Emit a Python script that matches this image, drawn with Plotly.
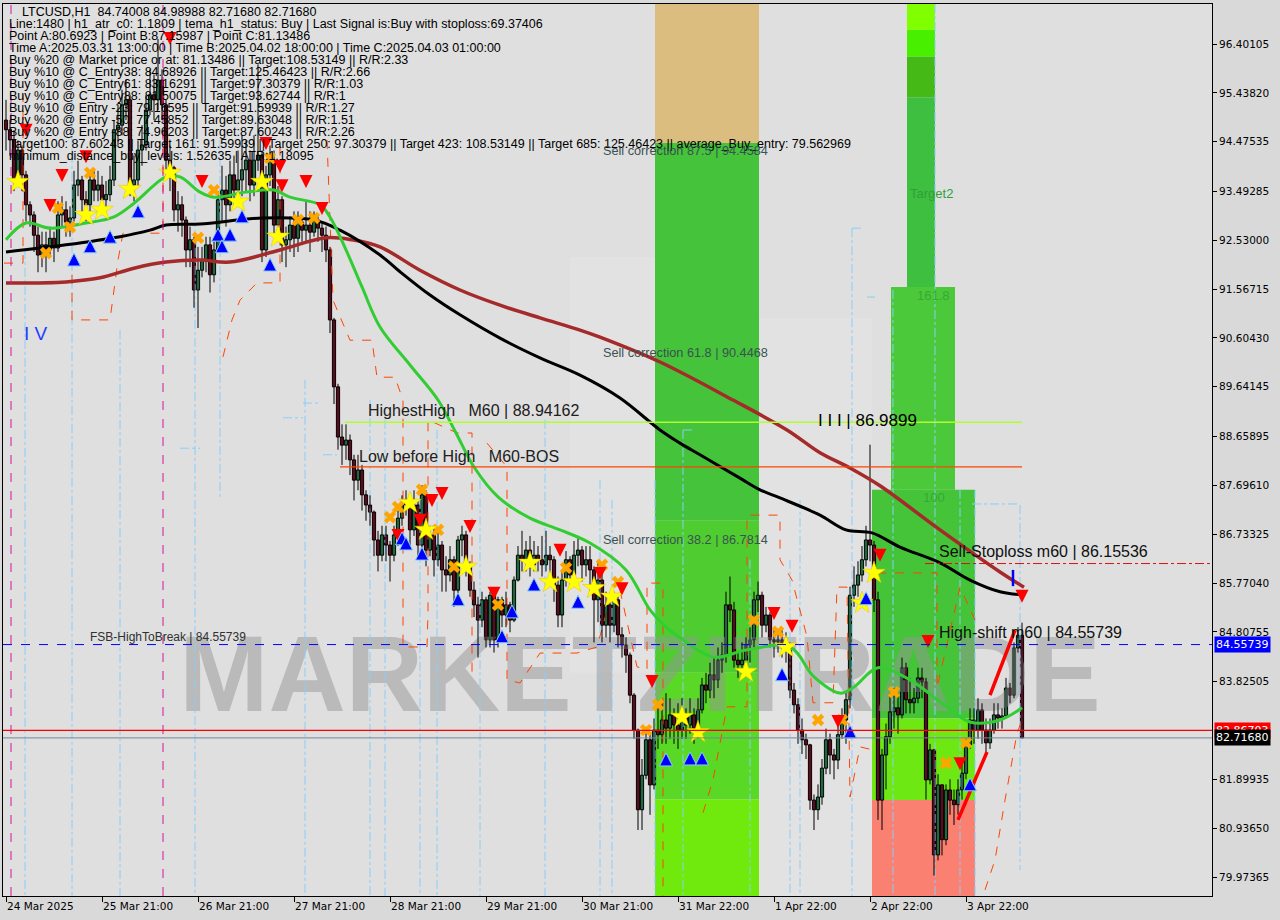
import plotly.graph_objects as go

# ---------------- axis labels ----------------
tick_bars = [0, 24, 48, 72, 96, 120, 144, 168, 192, 216, 240]
tick_labels = ["24 Mar 2025", "25 Mar 21:00", "26 Mar 21:00", "27 Mar 21:00", "28 Mar 21:00",
               "29 Mar 21:00", "30 Mar 21:00", "31 Mar 22:00", "1 Apr 22:00", "2 Apr 22:00", "3 Apr 22:00"]
price_tick_vals = [96.40105, 95.43820, 94.47535, 93.49285, 92.53000, 91.56715, 90.60430, 89.64145,
                   88.65895, 87.69610, 86.73325, 85.77040, 84.80755, 83.82505, 81.89935, 80.93650, 79.97365]
price_tick_text = ["96.40105", "95.43820", "94.47535", "93.49285", "92.53000", "91.56715", "90.60430",
                   "89.64145", "88.65895", "87.69610", "86.73325", "85.77040", "84.80755", "83.82505",
                   "81.89935", "80.93650", "79.97365"]

# ---------------- candles (H1) ----------------
first_open = 94.90
closes = [
    94.71, 94.51, 93.72, 94.31, 93.82, 93.23, 93.03, 92.63, 92.24, 92.44,
    92.34, 92.57, 92.38, 93.03, 93.13, 92.89, 92.97, 93.62, 93.72, 93.33,
    93.23, 93.72, 93.52, 93.62, 93.33, 93.43, 93.72, 94.71, 94.80, 95.20,
    95.30, 93.62, 93.72, 94.31, 94.41, 95.10, 95.40, 95.30, 95.69, 95.20,
    94.11, 93.96, 93.13, 93.23, 92.93, 92.34, 92.54, 91.55, 91.94, 92.14,
    92.44, 91.85, 92.34, 93.33, 93.52, 93.23, 93.82, 93.52, 93.72, 93.92,
    94.11, 93.62, 94.11, 94.21, 92.34, 93.82, 94.11, 92.83, 93.33, 92.44,
    92.54, 92.83, 92.57, 92.89, 92.73, 92.83, 92.69, 92.93, 92.77, 92.63,
    92.34, 90.96, 89.64, 88.65, 88.49, 88.59, 88.20, 87.80, 88.00, 87.51,
    87.31, 87.17, 86.62, 86.32, 86.72, 86.52, 86.32, 86.72, 87.05, 87.31,
    87.41, 86.82, 87.31, 86.52, 87.51, 86.42, 86.72, 86.23, 86.52, 86.03,
    85.93, 86.23, 85.63, 86.62, 86.72, 86.13, 85.63, 85.34, 85.04, 85.44,
    84.65, 85.53, 84.65, 85.44, 85.14, 85.34, 85.04, 85.83, 86.32, 86.23,
    86.42, 86.13, 86.32, 86.23, 86.13, 86.32, 86.23, 85.73, 85.14, 85.83,
    86.23, 85.93, 86.32, 86.42, 86.13, 86.23, 86.03, 85.44, 85.83, 84.94,
    85.34, 84.94, 85.44, 84.75, 84.55, 84.35, 83.56, 82.87, 81.30, 81.98,
    82.68, 81.79, 82.87, 82.78, 83.07, 82.91, 83.17, 82.97, 82.87, 83.17,
    82.97, 83.17, 82.91, 83.27, 83.76, 83.66, 83.96, 83.86, 84.25, 84.35,
    85.34, 85.24, 84.25, 84.16, 84.25, 84.55, 84.65, 85.44, 85.53, 84.94,
    85.14, 84.65, 84.61, 84.65, 84.55, 84.45, 83.66, 83.37, 82.87, 82.68,
    82.58, 81.49, 81.30, 81.55, 82.12, 82.68, 82.38, 82.28, 82.78, 83.07,
    83.47, 85.53, 85.73, 85.93, 86.23, 86.62, 86.52, 85.44, 81.49, 82.38,
    82.74, 83.23, 83.31, 83.17, 84.10, 83.47, 83.41, 83.50, 83.90, 83.82,
    81.89, 82.48, 80.41, 81.79, 80.71, 81.69, 81.49, 81.40, 81.69, 82.02,
    82.58, 83.07, 82.87, 83.27, 82.87, 82.62, 82.87, 83.17, 83.11, 83.15,
    83.70, 83.56, 84.49, 84.74008, 82.7168]
highs = [
    95.3, 94.9, 94.7, 94.5, 94.4, 93.9, 93.3, 93.1, 92.8, 92.7,
    92.7, 92.8, 92.7, 93.3, 93.4, 93.3, 93.2, 93.9, 94.1, 93.8,
    93.5, 93.9, 93.9, 93.9, 93.8, 93.7, 94.0, 94.9, 95.2, 95.5,
    95.7, 95.4, 94.2, 94.5, 94.8, 95.4, 95.9, 95.8, 96.5, 95.9,
    95.3, 94.4, 94.0, 93.5, 93.4, 93.0, 92.8, 92.6, 92.4, 92.4,
    92.6, 92.6, 92.5, 93.5, 94.0, 93.8, 94.1, 94.2, 94.3, 94.6,
    94.5, 94.3, 94.6, 96.0, 94.3, 94.0, 94.4, 94.3, 93.6, 93.4,
    92.8, 93.0, 93.1, 93.1, 93.0, 93.3, 93.1, 93.1, 93.0, 92.9,
    92.8, 92.4, 91.0, 89.7, 88.9, 88.9, 88.7, 88.3, 88.3, 88.1,
    87.6, 87.5, 87.2, 86.8, 86.9, 86.9, 86.6, 86.9, 87.2, 87.5,
    87.6, 87.5, 87.6, 87.4, 87.7, 87.6, 86.9, 86.9, 86.8, 86.6,
    86.3, 86.5, 86.3, 86.7, 86.9, 86.8, 86.2, 85.8, 85.5, 85.6,
    85.5, 85.6, 85.6, 85.5, 85.5, 85.6, 85.4, 85.9, 86.5, 86.8,
    86.6, 86.7, 86.6, 86.5, 86.7, 86.8, 86.5, 86.3, 85.9, 86.0,
    86.4, 86.3, 86.6, 86.7, 86.5, 86.5, 86.5, 86.1, 86.2, 86.1,
    85.6, 85.5, 85.6, 85.5, 84.9, 84.7, 84.4, 83.6, 82.9, 82.3,
    82.9, 82.8, 83.1, 83.4, 83.4, 83.6, 83.5, 83.3, 83.4, 83.5,
    83.3, 83.5, 83.3, 83.5, 83.9, 84.0, 84.2, 84.3, 84.5, 84.6,
    85.6, 85.9, 85.4, 84.4, 84.6, 84.7, 84.9, 85.6, 85.8, 85.6,
    85.3, 85.2, 84.9, 84.8, 84.9, 84.8, 84.6, 83.8, 83.5, 83.1,
    82.8, 82.6, 81.6, 81.8, 82.3, 82.9, 82.8, 82.5, 83.0, 83.3,
    83.6, 85.7, 86.1, 86.2, 86.5, 86.9, 88.5, 86.6, 85.6, 82.5,
    83.0, 83.6, 83.7, 83.6, 84.3, 84.2, 83.9, 83.7, 84.1, 84.1,
    83.9, 82.6, 82.5, 82.0, 81.8, 81.8, 81.9, 81.7, 81.9, 82.3,
    82.7, 83.3, 83.3, 83.5, 83.4, 83.1, 83.1, 83.4, 83.4, 83.3,
    83.9, 83.8, 84.6, 84.9, 84.98988]
lows = [
    94.3, 94.2, 93.5, 93.6, 93.5, 92.9, 92.8, 92.3, 91.9, 92.0,
    91.9, 92.2, 92.1, 92.3, 92.8, 92.6, 92.6, 92.9, 93.4, 93.1,
    92.9, 93.1, 93.3, 93.3, 93.1, 93.1, 93.3, 93.6, 94.4, 94.6,
    94.9, 93.4, 93.3, 93.6, 94.0, 94.3, 95.0, 94.9, 95.1, 94.9,
    93.8, 93.5, 92.9, 92.7, 92.6, 92.0, 92.0, 91.2, 90.8, 91.8,
    91.9, 91.5, 91.7, 92.3, 92.9, 92.8, 93.1, 93.2, 93.3, 93.4,
    93.5, 93.3, 93.4, 93.9, 92.1, 92.2, 93.6, 92.6, 92.7, 92.1,
    92.0, 92.3, 92.2, 92.3, 92.5, 92.5, 92.3, 92.6, 92.5, 92.3,
    92.1, 90.7, 89.3, 88.4, 88.1, 88.2, 87.9, 87.4, 87.6, 87.2,
    87.0, 86.9, 86.3, 86.0, 86.2, 86.2, 85.8, 86.2, 86.5, 86.9,
    87.1, 86.5, 86.7, 86.3, 86.4, 86.1, 86.3, 85.9, 86.1, 85.6,
    85.6, 85.8, 85.3, 85.5, 86.3, 85.9, 85.5, 85.1, 84.3, 84.9,
    84.5, 84.5, 84.4, 84.5, 84.9, 84.9, 84.8, 85.0, 85.8, 86.0,
    86.0, 85.9, 86.0, 86.0, 85.9, 86.0, 85.7, 85.4, 84.9, 84.9,
    85.7, 85.7, 85.8, 86.1, 85.8, 85.9, 85.6, 84.6, 85.0, 84.6,
    84.7, 84.6, 84.8, 84.5, 84.3, 84.0, 83.4, 82.7, 80.9, 80.9,
    81.9, 81.2, 81.7, 82.5, 82.6, 82.6, 82.7, 82.6, 82.5, 82.7,
    82.7, 82.8, 82.6, 82.8, 83.2, 83.4, 83.5, 83.5, 83.7, 84.0,
    84.2, 85.0, 84.1, 83.9, 83.9, 84.1, 84.2, 84.5, 85.2, 84.7,
    84.8, 84.5, 84.3, 84.4, 84.3, 84.2, 83.5, 83.2, 82.6, 82.4,
    82.3, 81.3, 80.9, 81.1, 81.4, 82.0, 82.0, 81.9, 82.1, 82.7,
    82.6, 83.3, 85.3, 85.5, 85.8, 86.1, 86.2, 85.2, 81.1, 80.9,
    81.7, 82.6, 82.9, 82.8, 83.1, 83.2, 83.2, 83.2, 83.4, 83.5,
    81.5, 81.8, 80.0, 80.3, 80.4, 80.6, 81.2, 81.0, 81.2, 81.5,
    81.9, 82.5, 82.6, 82.7, 82.6, 82.4, 82.5, 82.8, 82.9, 82.9,
    83.1, 83.4, 83.5, 84.4, 82.7168]

# ---------------- moving averages (bar index, price) ----------------
ma_black_bar = [0, 15, 28.5, 36, 40, 48.5, 64, 77, 83.5, 93.5, 98.5, 106, 113.5, 123.5, 133.5, 143.5,
                153.5, 163.5, 168.5, 173.5, 183.5, 188.5, 193.5, 203.5, 210, 216.5, 223.5, 233.5, 241, 248.5, 254]
ma_black_val = [92.30, 92.44, 92.60, 92.73, 92.83, 92.85, 92.97, 92.93, 92.73, 92.24, 91.91, 91.45, 91.06,
                90.60, 90.21, 89.87, 89.42, 88.79, 88.53, 88.30, 87.84, 87.61, 87.45, 87.11, 86.82, 86.76,
                86.48, 86.17, 85.83, 85.60, 85.54]
ma_brown_bar = [0, 15, 23.5, 32, 40, 48.5, 56, 68.5, 80, 86.5, 93.5, 103.5, 113.5, 123.5, 133.5, 143.5,
                148.5, 163.5, 181.75, 195.25, 203.5, 211, 218.5, 233.5, 248.5, 254.5]
ma_brown_val = [91.69, 91.71, 91.79, 91.98, 92.10, 92.14, 92.10, 92.34, 92.58, 92.54, 92.40, 91.94, 91.55,
                91.25, 91.00, 90.76, 90.62, 90.13, 89.38, 88.79, 88.34, 88.04, 87.69, 86.82, 85.99, 85.69]
ma_green_bar = [0, 5, 11, 20, 27, 32, 40, 43.5, 48.5, 52, 60, 67, 71, 78.5, 81, 85, 89, 93.5, 101, 108,
                112.5, 117, 123, 131, 138.5, 146, 155, 161, 165, 168.5, 177, 185, 196, 202, 208.5, 212,
                218, 226, 234, 241, 248.5, 254]
ma_green_val = [92.54, 92.87, 92.77, 92.87, 92.99, 93.26, 93.78, 93.78, 93.48, 93.38, 93.48, 93.52, 93.38,
                93.23, 92.99, 92.34, 91.61, 90.82, 90.07, 89.38, 88.73, 88.06, 87.47, 87.05, 86.82, 86.56,
                86.03, 85.24, 84.90, 84.69, 84.31, 84.45, 84.51, 83.92, 83.60, 83.72, 84.10, 83.86, 83.40,
                83.03, 83.07, 83.31]

# ---------------- orange dashed envelope (None = break) ----------------
orange_bar = [-0.5, 4.25, 4.25, None,
              16.5, 16.5, 26, 28, 29.25, 39.25, 39.25, None,
              54.25, 56.5, 58.5, 62.75, 68.5, 68.5, None,
              80.25, 81.75, 86, 91.5, 92.75, 97.25, 99.25, 99.25, 105.25, 105.5, 105.5, 112.75, 116.5, 116.5, None,
              120.25, 125.25, 125.25, 128.5, 133.5, 142.75, 147.75, 151, 153.5, 157.75, 160.25, 160.25, 164.25, 164.25, None,
              174.25, 176.75, 180.25, 185.25, 185.25, 193.5, 193.5, 196.5, 200.25, 201.75, 206.75, 207.75, 210.25, 211, 213.5, 216.75, None,
              217.75, 232.75, 232.75, 238.5, 242.25, None,
              244.75, 247.25, 249.75, 252.75, 254]
orange_val = [92.08, 92.08, 95.40, None,
              92.20, 90.96, 90.96, 92.14, 92.67, 92.67, 95.40, None,
              90.23, 90.96, 91.35, 91.69, 91.69, 94.51, None,
              94.51, 91.35, 90.56, 90.56, 89.83, 89.83, 89.38, 84.51, 84.51, 85.18, 88.99, 88.73, 88.73, 83.86, None,
              88.53, 88.06, 83.86, 83.80, 84.39, 84.39, 84.51, 85.44, 85.63, 84.12, 84.06, 85.77, 85.77, 79.60, None,
              81.24, 81.89, 83.33, 83.33, 87.11, 87.11, 86.23, 85.83, 84.71, 83.41, 83.41, 85.69, 85.69, 81.55, 82.54, 82.48, None,
              85.97, 85.97, 83.70, 85.69, 85.04, None,
              79.72, 80.31, 81.49, 82.81, 83.07]

# ---------------- light blue dash-dot channel ----------------
lb_v_bar = [4.75, 16.5, 28.5, 47.25, 53.5, 74.75, 91, 94.75, 103.5, 107.75, 118.5, 134.75, 148.5, 151.5,
            162.25, 169.25, 186, 196, 198.5, 211.5, 221.75, 232.25, 238.5, 242.25, 253.5]
lb_v_top = [92.34, 95.30, 90.76, 94.51, 94.51, 89.78, 89.38, 88.99, 87.41, 88.79, 87.80, 88.99, 87.80, 87.41,
            87.80, 88.79, 86.23, 86.23, 87.41, 92.77, 91.55, 97.19, 87.61, 87.61, 87.31]
lb_v_bottom = [79.60, 79.60, 79.60, 79.60, 87.41, 79.60, 79.60, 79.60, 79.60, 79.60, 79.60, 79.60, 79.60, 79.60,
               79.60, 79.60, 79.60, 79.60, 79.60, 79.60, 79.60, 79.60, 79.60, 79.60, 80.11]
lb_h_x0 = [211.5, 215.25, 241.5, 43.5, 69.25, 74.25, 79.25, 169.25]
lb_h_x1 = [214.25, 217.25, 253.5, 48.5, 74.25, 78.5, 82.75, 171.5]
lb_h_val = [92.77, 91.41, 87.33, 88.43, 89.03, 89.32, 88.30, 88.79]

# ---------------- levels ----------------
highest_high = 88.94162
low_before_high = 88.06
fsb_high_to_break = 84.55739
red_level = 82.86703
last_price = 82.71680
sell_stoploss = 86.15536
level_start_hh = 84.75
level_start_lbh = 83.5
level_end = 254
stoploss_start = 229.75
magenta_vlines = [1.25, 39.25]

trend_bar = [238, 245.25, None, 246, 252.25]
trend_val = [81.10, 82.44, None, 83.56, 84.84]
blue_tick_bar = [251.75, 251.75]
blue_tick_val = [86.03, 85.71]

# ---------------- signal markers ----------------
sell_arrow_bar = [5, 11, 14, 20, 41, 49, 65, 68.5, 69, 75, 79, 98, 103.5, 106.5, 109, 116, 122, 138.5, 148.5,
                  154, 161.5, 192, 196.5, 208, 218.5, 230.5, 238.5, 254]
sell_arrow_val = [94.57, 93.09, 93.68, 94.05, 96.38, 93.56, 94.31, 93.86, 93.48, 93.56, 93.03, 86.58, 86.88,
                  87.27, 87.41, 86.76, 85.44, 86.29, 85.83, 85.53, 83.70, 85.04, 84.79, 82.91, 86.19, 84.49,
                  82.08, 85.38]
buy_arrow_bar = [17, 21, 26, 33, 53, 54, 56, 59, 66, 99, 100, 104, 113, 124, 126.5, 132, 143, 165, 171, 174,
                 194, 211, 215, 241]
buy_arrow_val = [92.28, 92.54, 92.73, 93.23, 92.77, 92.54, 92.77, 93.13, 92.18, 86.78, 86.68, 86.48, 85.58,
                 84.85, 85.34, 85.87, 85.53, 82.42, 82.44, 82.44, 84.10, 82.97, 85.60, 81.93]
star_bar = [3, 20, 24, 31, 41, 58, 64, 68, 101, 105, 115, 131, 136, 142, 147, 151.5, 169, 173, 185, 195, 214, 217]
star_val = [93.68, 93.03, 93.13, 93.54, 93.86, 93.29, 93.68, 92.60, 87.35, 86.82, 86.09, 86.17, 85.79, 85.79,
            85.67, 85.50, 83.13, 82.83, 84.02, 84.51, 85.38, 85.97]
cross_bar = [10, 13, 16, 21, 48, 52, 66, 73, 77, 96, 98, 104, 108, 112, 123, 140, 149, 153, 160, 163, 187, 193,
             203, 209, 222, 235, 240]
cross_val = [92.28, 93.17, 92.79, 93.86, 92.58, 93.52, 94.15, 92.93, 92.97, 87.07, 87.27, 87.61, 86.82, 86.09,
             85.34, 86.07, 86.13, 85.79, 82.87, 83.37, 85.04, 84.81, 83.07, 83.07, 83.62, 82.22, 82.62]

# ---------------- zone blocks (bar x0, x1, price y0, y1) ----------------
zone_x0 = [162.25, 162.25, 162.25, 162.25, 162.25, 225.25, 225.25, 225.25, 225.25, 221.25, 216.5, 216.5, 216.5]
zone_x1 = [188.25, 188.25, 188.25, 188.25, 188.25, 232.25, 232.25, 232.25, 232.25, 237.25, 242.25, 242.25, 242.25]
zone_y0 = [94.45, 87.0, 84.0, 81.5, 79.6, 96.68, 96.15, 95.35, 91.61, 87.61, 83.1, 81.49, 79.6]
zone_y1 = [97.19, 94.45, 87.0, 84.0, 81.5, 97.19, 96.68, 96.15, 95.35, 91.61, 87.61, 83.1, 81.49]
zone_col = ["#dbbd80", "#45c33b", "#4fcd30", "#5ad826", "#70ea0c", "#80ff00", "#48f000", "#45b915",
            "#3fbf3f", "#4cc93a", "#45c43a", "#6ee812", "#fa8072"]
light_x0 = [188.25, 141.0]
light_x1 = [216.5, 162.25]
light_y0 = [79.6, 84.0]
light_y1 = [91.0, 92.2]

info_lines = [
    "LTCUSD,H1  84.74008 84.98988 82.71680 82.71680",
    "Line:1480 | h1_atr_c0: 1.1809 | tema_h1_status: Buy | Last Signal is:Buy with stoploss:69.37406",
    "Point A:80.6923 | Point B:87.15987 | Point C:81.13486",
    "Time A:2025.03.31 13:00:00 | Time B:2025.04.02 18:00:00 | Time C:2025.04.03 01:00:00",
    "Buy %20 @ Market price or at: 81.13486 || Target:108.53149 || R/R:2.33",
    "Buy %10 @ C_Entry38: 84.68926 || Target:125.46423 || R/R:2.66",
    "Buy %10 @ C_Entry61: 83.16291 || Target:97.30379 || R/R:1.03",
    "Buy %10 @ C_Entry88: 81.50075 || Target:93.62744 || R/R:1",
    "Buy %10 @ Entry -23: 79.16595 || Target:91.59939 || R/R:1.27",
    "Buy %20 @ Entry -50: 77.45852 || Target:89.63048 || R/R:1.51",
    "Buy %20 @ Entry -88: 74.96203 || Target:87.60243 || R/R:2.26",
    "Target100: 87.60243 || Target 161: 91.59939 || Target 250: 97.30379 || Target 423: 108.53149 || Target 685: 125.46423 || average_Buy_entry: 79.562969",
    "minimum_distance_buy_levels: 1.52635 | ATR:1.18095",
]

# ================= build figure =================
X_RANGE = [-0.75, 301.5]
Y_RANGE = [79.599, 97.19]
W, H = 1280, 920
L, R, T, B = 3, 68, 4, 24
PW, PH = W - L - R, H - T - B


def fx(px):
    return (px - L) / PW


def fy(py):
    return 1 - (py - T) / PH


fig = go.Figure()
shapes = []
for x0, x1, y0, y1, c in zip(zone_x0, zone_x1, zone_y0, zone_y1, zone_col):
    shapes.append(dict(type="rect", xref="x", yref="y", x0=x0, x1=x1, y0=y0, y1=y1,
                       fillcolor=c, line=dict(width=0), layer="below"))
for x0, x1, y0, y1 in zip(light_x0, light_x1, light_y0, light_y1):
    shapes.append(dict(type="rect", xref="x", yref="y", x0=x0, x1=x1, y0=y0, y1=y1,
                       fillcolor="rgba(255,255,255,0.12)", line=dict(width=0), layer="below"))
for xb in magenta_vlines:
    shapes.append(dict(type="line", xref="x", yref="paper", x0=xb, x1=xb, y0=0, y1=1,
                       line=dict(color="#d0189a", width=1, dash="dash")))
# horizontal levels
shapes.append(dict(type="line", xref="x", yref="y", x0=level_start_hh, x1=level_end,
                   y0=highest_high, y1=highest_high, line=dict(color="#adff2f", width=1.5)))
shapes.append(dict(type="line", xref="x", yref="y", x0=level_start_lbh, x1=level_end,
                   y0=low_before_high, y1=low_before_high, line=dict(color="#ff4500", width=1.2)))
shapes.append(dict(type="line", xref="paper", yref="y", x0=0, x1=1,
                   y0=fsb_high_to_break, y1=fsb_high_to_break, line=dict(color="#0000ff", width=1, dash="dash")))
shapes.append(dict(type="line", xref="paper", yref="y", x0=0, x1=1,
                   y0=red_level, y1=red_level, line=dict(color="#ff0000", width=1.2)))
shapes.append(dict(type="line", xref="paper", yref="y", x0=0, x1=1,
                   y0=last_price, y1=last_price, line=dict(color="#778899", width=1)))
shapes.append(dict(type="line", xref="x", yref="y", x0=stoploss_start, x1=X_RANGE[1],
                   y0=sell_stoploss, y1=sell_stoploss, line=dict(color="#dd1010", width=1, dash="dashdot")))

# watermark (under everything else)
fig.add_trace(go.Scatter(x=[158.5], y=[83.78], mode="text", text=["MARKETZITRADE"],
                         textfont=dict(size=107, family="Liberation Sans", color="rgba(150,150,150,0.5)",
                                       weight="bold"),
                         hoverinfo="skip"))

# light blue channel
lb_x, lb_y = [], []
for xb, t, b in zip(lb_v_bar, lb_v_top, lb_v_bottom):
    lb_x += [xb, xb, None]
    lb_y += [t, b, None]
for x0, x1, v in zip(lb_h_x0, lb_h_x1, lb_h_val):
    lb_x += [x0, x1, None]
    lb_y += [v, v, None]
fig.add_trace(go.Scatter(x=lb_x, y=lb_y, mode="lines", line=dict(color="#87cefa", width=1, dash="dashdot"),
                         hoverinfo="skip"))
fig.add_trace(go.Scatter(x=orange_bar, y=orange_val, mode="lines",
                         line=dict(color="#ff4500", width=1, dash="dash"), hoverinfo="skip"))

# candles
n = min(len(closes), len(highs), len(lows))
bars = list(range(n))
opens = [first_open] + closes[:n - 1]
wx, wy = [], []
for i in bars:
    wx += [i, i, None]
    wy += [min(lows[i], opens[i], closes[i]), max(highs[i], opens[i], closes[i]), None]
fig.add_trace(go.Scatter(x=wx, y=wy, mode="lines", line=dict(color="black", width=1), hoverinfo="skip"))
up = [i for i in bars if closes[i] >= opens[i]]
dn = [i for i in bars if closes[i] < opens[i]]
fig.add_trace(go.Bar(x=up, y=[closes[i] - opens[i] for i in up], base=[opens[i] for i in up], width=0.8,
                     marker=dict(color="#3ccf80", line=dict(color="black", width=1))))
fig.add_trace(go.Bar(x=dn, y=[closes[i] - opens[i] for i in dn], base=[opens[i] for i in dn], width=0.8,
                     marker=dict(color="#b8173c", line=dict(color="black", width=1))))

# moving averages
fig.add_trace(go.Scatter(x=ma_brown_bar, y=ma_brown_val, mode="lines", line=dict(color="#a52a2a", width=3.5, shape="spline")))
fig.add_trace(go.Scatter(x=ma_black_bar, y=ma_black_val, mode="lines", line=dict(color="#000000", width=3, shape="spline")))
fig.add_trace(go.Scatter(x=ma_green_bar, y=ma_green_val, mode="lines", line=dict(color="#32cd32", width=3, shape="spline")))

# trend line + marker
fig.add_trace(go.Scatter(x=trend_bar, y=trend_val, mode="lines", line=dict(color="#ff0000", width=3.5)))
fig.add_trace(go.Scatter(x=blue_tick_bar, y=blue_tick_val, mode="lines", line=dict(color="#0000ff", width=2.5)))

# signals
fig.add_trace(go.Scatter(x=cross_bar, y=cross_val, mode="markers",
                         marker=dict(symbol="x", size=11, color="#ffa500", line=dict(width=0))))
fig.add_trace(go.Scatter(x=star_bar, y=star_val, mode="markers",
                         marker=dict(symbol="star", size=17, color="#ffff00", line=dict(width=0.5, color="#e8c000"))))
fig.add_trace(go.Scatter(x=sell_arrow_bar, y=sell_arrow_val, mode="markers",
                         marker=dict(symbol="arrow-down", size=13, color="#ff0000", line=dict(width=0))))
fig.add_trace(go.Scatter(x=buy_arrow_bar, y=buy_arrow_val, mode="markers",
                         marker=dict(symbol="arrow-up", size=13, color="#0000ff", line=dict(width=1, color="#87cefa"))))

anns = []
for k, txt in enumerate(info_lines):
    anns.append(dict(x=fx(20 if k == 0 else 7), y=fy(12 + 12 * k), xref="paper", yref="paper", text=txt,
                     showarrow=False, xanchor="left", yanchor="middle",
                     font=dict(family="Liberation Sans", size=12.5, color="black")))


def label(px, py, txt, size, color, family="Liberation Sans"):
    anns.append(dict(x=fx(px), y=fy(py), xref="paper", yref="paper", text=txt, showarrow=False,
                     xanchor="left", yanchor="middle", font=dict(family=family, size=size, color=color)))


label(22, 333, "I V", 19, "#1e3cff")
label(366, 410, "HighestHigh   M60 | 88.94162", 16, "#202020")
label(357, 456, "Low before High   M60-BOS", 16, "#202020")
label(601, 151, "Sell correction 87.5 | 94.4584", 12.7, "#3a5252")
label(601, 353, "Sell correction 61.8 | 90.4468", 12.7, "#3a5252")
label(601, 540, "Sell correction 38.2 | 86.7814", 12.7, "#3a5252")
label(816, 420, "I I I | 86.9899", 17, "#000000")
label(908, 193, "Target2", 13, "#2f9f3a")
label(915, 295, "161.8", 13, "#36a836")
label(921, 497, "100", 13, "#36a836")
label(937, 551, "Sell-Stoploss m60 | 86.15536", 16, "#101010")
label(937, 632, "High-shift m60 | 84.55739", 16, "#101010")
label(88, 637, "FSB-HighToBreak | 84.55739", 12, "#303030")

for val, txt, bg in [(red_level, "82.86703", "#ff0000"), (last_price, "82.71680", "#000000"),
                     (fsb_high_to_break, "84.55739", "#0000ff")]:
    anns.append(dict(x=1.0, y=val, xref="paper", yref="y", text=txt, showarrow=False, xanchor="left",
                     yanchor="middle", xshift=2, bgcolor=bg, borderpad=1,
                     font=dict(family="DejaVu Sans", size=11, color="white")))

axis_font = dict(family="DejaVu Sans", size=10.5, color="black")
fig.update_layout(
    width=W, height=H, margin=dict(l=L, r=R, t=T, b=B),
    paper_bgcolor="#d9d9d9", plot_bgcolor="#dfdfdf",
    showlegend=False, barmode="overlay", shapes=shapes, annotations=anns,
    xaxis=dict(range=X_RANGE, tickvals=tick_bars, ticktext=tick_labels, ticks="outside", ticklen=5,
               tickcolor="black", showgrid=False, zeroline=False, showline=True, linecolor="black",
               linewidth=1, mirror=True, ticklabelposition="outside right", tickfont=axis_font),
    yaxis=dict(range=Y_RANGE, side="right", tickvals=price_tick_vals, ticktext=price_tick_text,
               ticks="outside", ticklen=4, tickcolor="black", showgrid=False, zeroline=False,
               showline=True, linecolor="black", linewidth=1, mirror=True, tickfont=axis_font),
)
fig.write_html("out.html", config={"displayModeBar": False},
               post_script="document.body.style.margin='0px';document.body.style.overflow='hidden';")
